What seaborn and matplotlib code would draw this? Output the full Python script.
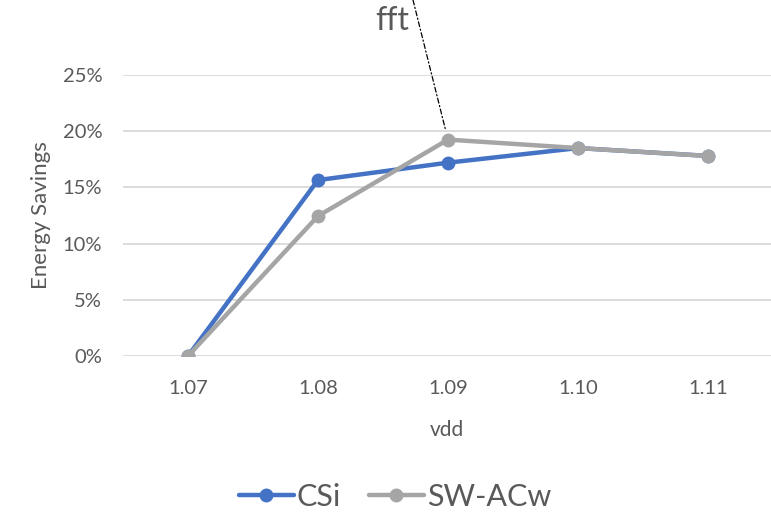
import matplotlib
matplotlib.use("Agg")
import matplotlib.pyplot as plt
import seaborn as sns
import pandas as pd
from matplotlib.ticker import FuncFormatter

# Data
vdd_labels = ["1.07", "1.08", "1.09", "1.10", "1.11"]
csi = [0.0, 15.65, 17.2, 18.5, 17.8]
sw_acw = [0.0, 12.45, 19.25, 18.5, 17.8]
series_names = ["CSi", "SW-ACw"]
yticks = [0, 5, 10, 15, 20, 25]

df = pd.DataFrame({
    "pos": list(range(len(vdd_labels))) * 2,
    "savings": csi + sw_acw,
    "series": [series_names[0]] * len(csi) + [series_names[1]] * len(sw_acw),
})

sns.set_theme(style="white")
plt.rcParams["font.family"] = ["Lato", "DejaVu Sans"]

W, H = 771, 523
fig = plt.figure(figsize=(W / 100, H / 100), dpi=100)
ax = fig.add_axes([123 / W, 1 - 356 / H, (771 - 123) / W, (356 - 75) / H])

palette = {"CSi": "#4472C4", "SW-ACw": "#A5A5A5"}
sns.lineplot(data=df, x="pos", y="savings", hue="series", palette=palette,
             marker="o", markersize=10, markeredgewidth=0, linewidth=3.2,
             sort=False, ax=ax, legend=False)

ax.set_xlim(-0.5, 4.485)
ax.set_ylim(0, 25)
ax.set_xticks(range(len(vdd_labels)))
ax.set_xticklabels(vdd_labels)
ax.set_yticks(yticks)
ax.yaxis.set_major_formatter(FuncFormatter(lambda v, _: f"{v:.0f}%"))
ax.grid(axis="y", color="#D9D9D9", linewidth=1.3)
ax.set_axisbelow(True)
for s in ax.spines.values():
    s.set_visible(False)
ax.tick_params(axis="both", length=0, labelsize=14.5, colors="#595959")
ax.tick_params(axis="y", pad=15)
ax.tick_params(axis="x", pad=17)
ax.set_xlabel("vdd", fontsize=15, color="#595959", labelpad=17)
ax.set_ylabel("Energy Savings", fontsize=16, color="#595959", labelpad=8)

# Title with leader line to the SW-ACw point at 1.09
fig.text(392 / W, 1 - 21 / H, "fft", fontsize=23, color="#595959",
         ha="center", va="center")
ax.annotate("", xy=(2, sw_acw[2]), xycoords="data",
            xytext=(413, H), textcoords="figure pixels",
            arrowprops=dict(arrowstyle="-", color="black", linewidth=0.9,
                            linestyle=(0, (4, 2, 1, 2)), shrinkA=0, shrinkB=7))

handles = [plt.Line2D([], [], color=palette[n], marker="o", markersize=10,
                      markeredgewidth=0, linewidth=3.2) for n in series_names]
fig.legend(handles, series_names, loc="center", bbox_to_anchor=(395 / W, 1 - 497 / H),
           ncol=2, frameon=False, fontsize=22, handlelength=1.8,
           handletextpad=0.1, columnspacing=0.9, numpoints=1,
           labelcolor="#595959")

fig.savefig("out.png", dpi=100)
